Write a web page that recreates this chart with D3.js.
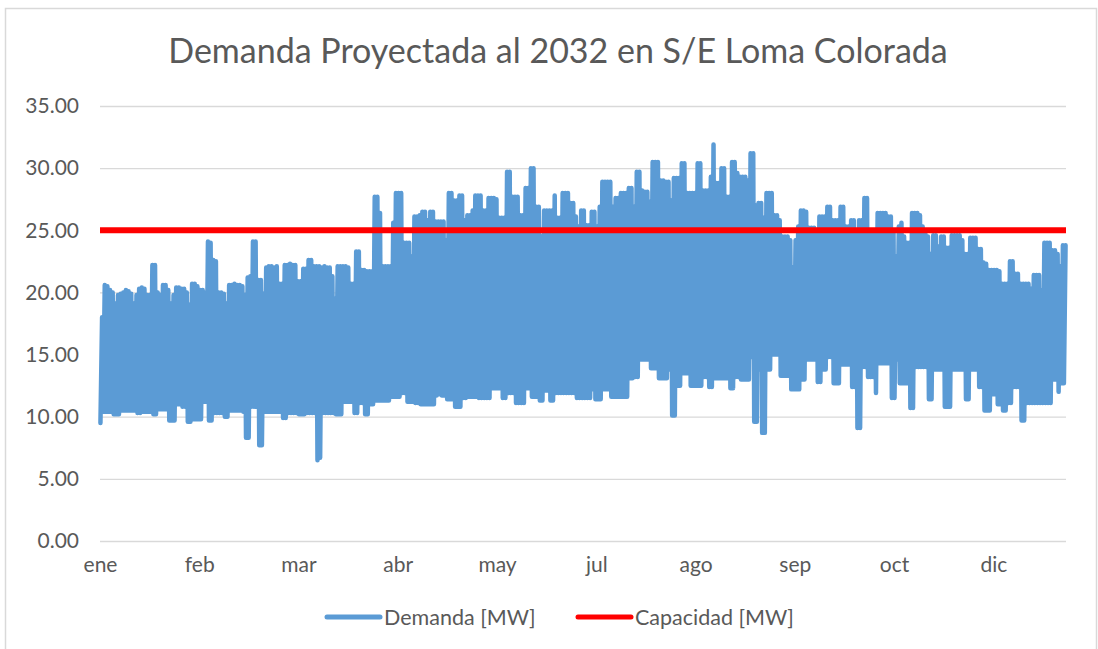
<!DOCTYPE html>
<html>
<head>
<meta charset="utf-8">
<script src="https://cdn.jsdelivr.net/npm/d3@7"></script>
<style>
  body { margin: 0; background: #fff; }
  text { font-family: Lato, "Open Sans", sans-serif; fill: #595959; }
</style>
</head>
<body>
<div id="chart"></div>
<script>
// Daily peak of the hourly demand [MW] (day 0 = 1 ene)
var maxDemand = [
  18.0,20.6,20.5,20.2,20.0,19.1,19.8,19.9,20.0,20.2,
  20.1,19.9,19.1,19.8,20.3,20.4,20.3,19.8,19.8,22.2,
  22.2,20.0,19.8,20.6,20.6,20.2,19.1,19.8,20.4,20.4,
  20.3,20.3,20.0,19.0,20.7,20.7,20.5,20.2,20.2,20.0,
  24.1,24.0,22.6,22.5,20.0,20.0,19.9,19.1,20.6,20.6,
  20.7,20.6,20.6,20.5,19.8,21.2,21.3,24.1,24.1,21.0,
  21.0,19.9,22.0,22.1,22.1,22.0,22.1,20.7,20.7,22.2,
  22.2,22.3,22.2,22.2,20.9,20.9,21.9,21.9,22.6,22.6,
  22.1,22.1,22.1,22.0,22.1,22.0,22.0,21.3,19.5,22.1,
  22.1,22.1,22.1,22.0,20.7,20.7,23.3,23.3,21.8,21.8,
  21.7,21.7,21.7,27.7,27.7,26.4,22.1,22.1,22.1,22.1,
  25.6,28.0,28.0,28.0,24.0,24.0,24.0,22.9,26.1,26.1,
  26.2,26.5,26.5,25.8,26.5,26.5,25.7,25.7,25.7,25.7,
  24.2,28.0,28.0,27.4,27.4,27.8,27.8,25.8,26.2,26.2,
  26.6,27.8,27.8,27.8,26.6,26.6,27.6,27.6,27.6,27.5,
  26.0,26.0,26.0,29.7,29.7,27.7,27.7,27.7,26.2,26.2,
  28.4,28.4,30.0,30.0,26.9,26.9,24.5,26.6,26.6,26.6,
  26.6,27.8,26.0,26.0,28.0,28.0,28.0,27.2,27.2,26.1,
  25.3,26.6,26.6,25.4,25.4,26.5,26.5,25.3,26.9,28.9,
  28.9,28.9,28.9,26.9,27.6,27.6,28.0,28.0,28.0,28.4,
  28.4,26.9,29.7,29.7,28.2,28.1,28.1,27.3,30.5,30.5,
  30.5,29.0,29.0,28.9,28.9,27.4,29.2,29.2,29.2,30.4,
  30.4,28.0,28.0,28.0,28.0,30.4,30.4,28.2,28.2,28.2,
  29.3,31.9,28.8,28.8,30.0,30.0,27.7,27.7,30.5,30.5,
  29.6,29.3,29.3,29.3,29.0,31.2,31.2,27.0,27.2,27.2,
  26.0,28.0,28.0,28.0,26.2,26.2,25.8,24.5,24.5,24.5,
  24.2,22.0,24.2,25.3,26.6,26.6,26.5,25.2,25.2,25.2,
  25.0,26.1,26.1,26.1,26.9,26.9,25.8,25.8,25.8,26.9,
  26.9,25.3,25.3,25.8,25.8,25.0,25.8,25.8,27.6,27.6,
  25.0,25.0,25.0,26.4,26.4,26.4,26.4,26.1,26.1,24.8,
  22.9,25.3,25.6,24.5,24.0,24.0,26.4,26.4,26.4,26.2,
  25.3,24.8,24.5,23.1,24.6,24.6,23.7,24.5,24.5,23.6,
  23.6,24.6,24.6,24.6,24.6,24.2,23.1,23.1,24.4,24.4,
  24.4,23.5,23.5,22.4,22.3,21.8,21.8,21.8,21.8,21.7,
  20.7,20.7,20.7,22.5,22.5,21.5,21.5,20.7,20.7,20.7,
  20.7,20.3,21.4,21.4,21.4,20.2,24.0,24.0,24.0,23.4,
  23.4,23.1,22.1,23.8,23.8
];

// Daily valley of the hourly demand [MW]
var minDemand = [
  9.5,10.4,10.4,10.4,10.4,10.2,10.2,10.2,10.5,10.5,
  10.5,10.5,10.5,10.5,10.3,10.3,10.4,10.4,10.4,10.4,
  10.2,10.2,10.6,10.6,10.6,10.6,9.7,9.7,9.7,11.0,
  11.0,10.8,10.8,9.6,9.6,9.8,9.8,9.8,9.8,11.2,
  11.2,9.7,9.7,10.3,10.3,10.3,10.3,10.0,10.0,10.5,
  10.5,10.5,10.5,10.5,10.4,8.3,8.3,10.8,10.8,10.8,
  7.7,7.7,10.4,10.4,10.4,10.4,10.4,10.4,10.4,9.9,
  9.9,10.3,10.3,10.3,10.3,10.2,10.2,10.2,10.3,10.3,
  10.3,10.3,6.5,6.7,10.3,10.3,10.3,10.3,10.3,10.2,
  10.2,10.2,11.2,11.2,11.2,11.2,10.3,10.3,11.1,11.1,
  10.2,10.2,11.0,11.0,11.3,11.3,11.3,11.3,11.3,11.3,
  11.6,11.6,11.6,11.6,11.9,11.9,11.2,11.2,11.2,11.1,
  11.1,11.0,11.0,11.0,11.0,11.0,11.0,11.7,11.8,11.7,
  11.7,11.4,11.4,11.4,10.8,10.8,10.8,11.5,11.5,11.6,
  11.6,11.6,11.6,11.5,11.5,11.5,11.5,11.5,12.3,12.3,
  12.3,12.3,11.5,11.5,11.9,11.9,11.9,11.1,11.1,11.1,
  11.1,12.3,12.3,11.6,11.6,11.6,11.3,11.3,12.1,12.1,
  11.3,11.3,11.9,11.9,11.9,11.9,11.9,11.9,11.9,11.9,
  11.5,11.5,11.5,11.5,11.5,11.5,12.2,11.4,11.4,11.4,
  12.2,12.2,12.2,11.6,11.6,11.6,11.6,11.6,11.6,11.6,
  13.1,13.1,13.2,13.2,14.6,14.6,14.6,14.6,13.9,13.9,
  13.9,13.1,13.1,13.1,13.1,13.8,10.1,10.1,12.5,12.5,
  13.5,13.5,13.5,12.5,12.5,12.5,12.5,12.5,13.2,13.2,
  12.4,12.4,13.1,13.1,13.1,13.1,13.1,13.1,12.3,12.3,
  13.2,13.2,13.0,13.0,13.0,13.0,14.8,9.6,9.6,13.8,
  8.7,8.7,13.8,13.8,15.0,15.0,15.0,13.3,13.3,13.3,
  13.3,12.2,12.2,12.2,12.2,13.0,13.0,14.6,14.6,14.6,
  14.6,12.8,12.8,13.8,13.8,14.8,14.8,12.7,12.7,12.7,
  14.2,14.2,14.2,14.2,12.4,12.4,9.1,9.1,14.0,14.0,
  13.2,13.2,13.2,11.9,14.3,14.3,14.3,14.3,14.3,11.5,
  11.5,14.6,12.7,12.7,12.7,12.7,10.7,10.7,14.0,14.0,
  14.0,14.0,14.0,11.4,11.4,13.8,13.8,13.8,13.8,10.8,
  10.8,10.8,13.8,13.8,13.8,13.8,13.8,11.4,11.4,13.8,
  13.8,13.8,12.4,12.4,10.5,10.5,10.5,11.8,11.8,11.0,
  11.0,10.5,10.5,11.1,11.1,12.4,12.4,12.4,9.7,9.7,
  11.1,11.1,11.1,11.1,11.1,11.1,11.1,11.1,11.1,11.1,
  13.0,13.0,12.0,12.7,12.7
];

var capacity = 25;   // MW
var hoursInYear = 8760;

// category axis shows every 900th hour, labelled with its month
var tickHours = [0, 900, 1800, 2700, 3600, 4500, 5400, 6300, 7200, 8100];
var tickLabels = ["ene", "feb", "mar", "abr", "may", "jul", "ago", "sep", "oct", "dic"];
var yTicks = [0, 5, 10, 15, 20, 25, 30, 35];

var seriesNames = ["Demanda [MW]", "Capacidad [MW]"];
var seriesColors = ["#5B9BD5", "#FF0000"];

var W = 1098, H = 649;
// plot area (note: "top" is reserved on window, so use plot* names)
var plotLeft = 100, plotRight = 1066, plotTop = 106, plotBottom = 541;

var svg = d3.select("#chart").append("svg")
    .attr("width", W)
    .attr("height", H);

// chart frame
svg.append("rect")
    .attr("x", 5.5).attr("y", 8.5)
    .attr("width", 1091).attr("height", 700)
    .attr("fill", "#fff")
    .attr("stroke", "#D9D9D9")
    .attr("stroke-width", 1.5);

svg.append("text")
    .attr("x", 558)
    .attr("y", 63)
    .attr("text-anchor", "middle")
    .attr("font-size", 34)
    .text("Demanda Proyectada al 2032 en S/E Loma Colorada");

var x = d3.scaleLinear().domain([0, hoursInYear - 1]).range([plotLeft, plotRight]);
var y = d3.scaleLinear().domain([0, 35]).range([plotBottom, plotTop]);

// y axis + gridlines
var yAxis = svg.append("g")
    .attr("transform", "translate(" + plotLeft + ",0)")
    .call(d3.axisLeft(y)
        .tickValues(yTicks)
        .tickSize(-(plotRight - plotLeft))
        .tickPadding(21)
        .tickFormat(d3.format(".2f")));
yAxis.select(".domain").remove();
yAxis.selectAll("line").attr("stroke", "#D9D9D9").attr("stroke-width", 1.3);
yAxis.selectAll("text")
    .attr("font-size", 21)
    .attr("fill", "#595959")
    .style("font-family", "Lato, 'Open Sans', sans-serif");

// x axis (labels only, the 0 gridline is the axis line)
var xAxis = svg.append("g")
    .attr("transform", "translate(0," + plotBottom + ")")
    .call(d3.axisBottom(x)
        .tickValues(tickHours)
        .tickSize(0)
        .tickPadding(16)
        .tickFormat(function(d, i) { return tickLabels[i]; }));
xAxis.select(".domain").remove();
xAxis.selectAll("text")
    .attr("font-size", 21)
    .attr("fill", "#595959")
    .style("font-family", "Lato, 'Open Sans', sans-serif");

// hourly demand drawn through each day's valley (early morning) and peak (evening)
var demandPts = [];
maxDemand.forEach(function(mx, d) {
    demandPts.push({ h: d * 24 + 4, v: minDemand[d] });
    demandPts.push({ h: d * 24 + 19, v: mx });
});

var line = d3.line()
    .x(function(d) { return x(d.h); })
    .y(function(d) { return y(d.v); });

svg.append("path")
    .datum(demandPts)
    .attr("d", line)
    .attr("fill", "none")
    .attr("stroke", seriesColors[0])
    .attr("stroke-width", 4.5)
    .attr("stroke-linejoin", "round")
    .attr("stroke-linecap", "round");

svg.append("path")
    .datum([{ h: 0, v: capacity }, { h: hoursInYear - 1, v: capacity }])
    .attr("d", line)
    .attr("fill", "none")
    .attr("stroke", seriesColors[1])
    .attr("stroke-width", 6);

// legend
var legendX = [327, 578];
var legend = svg.selectAll(".legend")
    .data(seriesNames)
    .enter()
    .append("g")
    .attr("transform", function(d, i) { return "translate(" + legendX[i] + ",617)"; });
legend.append("line")
    .attr("x1", 0).attr("x2", 53)
    .attr("stroke", function(d, i) { return seriesColors[i]; })
    .attr("stroke-width", 5)
    .attr("stroke-linecap", "round");
legend.append("text")
    .attr("x", 57)
    .attr("dy", "0.35em")
    .attr("font-size", 21.5)
    .text(function(d) { return d; });
</script>
</body>
</html>
